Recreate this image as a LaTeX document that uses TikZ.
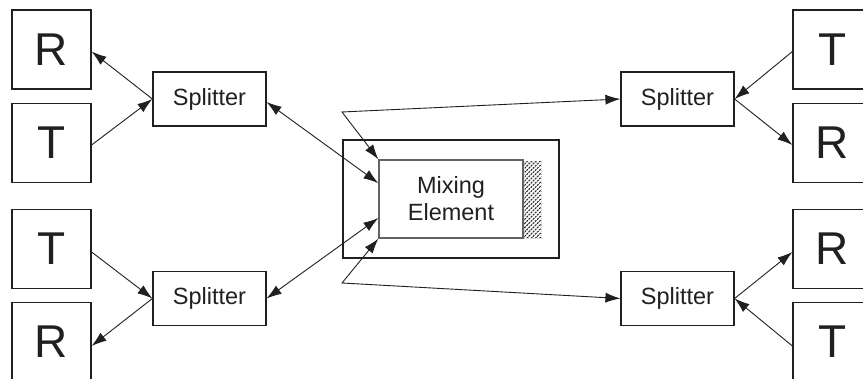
\documentclass[tikz,border=0pt]{standalone}
\usepackage{fontspec}
\setmainfont{Liberation Sans}
\usetikzlibrary{arrows.meta,patterns.meta,calc}
\definecolor{ink}{HTML}{231F20}
\tikzset{
  x=1pt, y=-1pt,
  every node/.style={text=ink},
  portbox/.style={draw=ink, line width=1.2pt, minimum width=79pt, minimum height=79pt,
                  inner sep=0pt, font=\fontsize{46}{46}\selectfont},
  splitbox/.style={draw=ink, line width=1.2pt, minimum width=113pt, minimum height=54pt,
                   inner sep=0pt, font=\fontsize{23.5}{27}\selectfont},
  link/.style={draw=ink, line width=0.9pt},
  tip/.style={-{Latex[length=15pt,width=10pt]}},
  tips/.style={{Latex[length=15pt,width=10pt]}-{Latex[length=15pt,width=10pt]}},
}
\begin{document}
\begin{tikzpicture}
\clip (0,0) rectangle (863,379);
\fill[white] (0,0) rectangle (863,379);

% left column of ports
\node[portbox] (rL1) at (51.5,49.5) {R};
\node[portbox] (tL1) at (51.5,143) {T};
\node[portbox] (tL2) at (51.5,249) {T};
\node[portbox] (rL2) at (51.5,342) {R};

% right column of ports (running off the edge)
\node[portbox] (tR1) at (832.5,49.5) {T};
\node[portbox] (rR1) at (832.5,143) {R};
\node[portbox] (rR2) at (832.5,249) {R};
\node[portbox] (tR2) at (832.5,342) {T};

% splitters
\node[splitbox] (sL1) at (209.5,99) {Splitter};
\node[splitbox] (sL2) at (209.5,298.5) {Splitter};
\node[splitbox] (sR1) at (677.5,99) {Splitter};
\node[splitbox] (sR2) at (677.5,298.5) {Splitter};

% mixing element in its housing
\node[draw=ink, line width=1.2pt, minimum width=216pt, minimum height=118pt, inner sep=0pt]
  (housing) at (451,199) {};
\node[draw=ink!70, line width=1.3pt, minimum width=144pt, minimum height=78pt, inner sep=0pt,
      align=center, font=\fontsize{23.5}{27}\selectfont]
  (mix) at (451,199) {Mixing\\Element};
\node[inner sep=0pt, minimum width=17pt, minimum height=76pt, draw=ink!25, densely dotted,
      pattern={Lines[angle=45,distance=3pt,line width=1.1pt]}, pattern color=ink]
  (hatch) at (532.5,200) {};

\coordinate (pA) at ($(mix.north west)!0.3!(mix.south west)$);
\coordinate (pB) at ($(mix.north west)!0.74!(mix.south west)$);
\coordinate (bendA) at (342,112);
\coordinate (bendB) at (342,283);

% left splitters
\draw[link,tip] (sL1.west) -- ($(rL1.east)+(0,2)$);
\draw[link,tip] ($(tL1.east)+(0,2)$) -- (sL1.west);
\draw[link,tip] ($(tL2.east)+(0,3)$) -- (sL2.west);
\draw[link,tip] (sL2.west) -- ($(rL2.east)+(0,4)$);

% right splitters
\draw[link,tip] ($(tR1.west)+(0,2)$) -- (sR1.east);
\draw[link,tip] (sR1.east) -- ($(rR1.west)+(0,2)$);
\draw[link,tip] (sR2.east) -- ($(rR2.west)+(0,3)$);
\draw[link,tip] ($(tR2.west)+(0,4)$) -- (sR2.east);

% links to the mixing element
\draw[link,tips] ($(sL1.east)+(0,3)$) -- (pA);
\draw[link,tips] (sL2.east) -- (pB);
\draw[link,tips] (mix.north west) -- (bendA) -- (sR1.west);
\draw[link,tips] (mix.south west) -- (bendB) -- (sR2.west);
\end{tikzpicture}
\end{document}
